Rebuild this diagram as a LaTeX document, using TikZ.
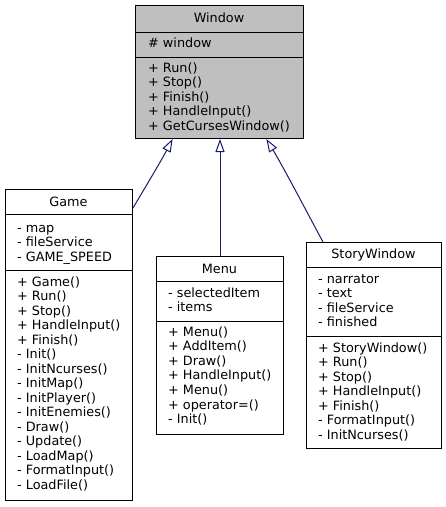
\documentclass[tikz,border=0pt]{standalone}
\usepackage{fontspec}
\setmainfont{DejaVu Sans}
\usepackage{xcolor}
\usepackage{tikz}
\usetikzlibrary{arrows.meta,positioning,calc}

\definecolor{edgeblue}{HTML}{191970}
\definecolor{basegray}{HTML}{BFBFBF}

\tikzset{
  classbox/.style={draw=black, line width=1pt, inner sep=0pt, anchor=north west},
  sepline/.style={draw=black, line width=1pt},
  lbl/.style={inner sep=0pt, anchor=base west, font=\fontsize{12.8}{14.6}\selectfont},
  ttl/.style={inner sep=0pt, anchor=base, font=\fontsize{12.8}{14.6}\selectfont},
  inherit/.style={draw=edgeblue, line width=1pt, -{Triangle[open, length=13pt, width=9pt]}}
}

\begin{document}
\begin{tikzpicture}[x=1pt,y=-1pt]
\useasboundingbox (0,0) rectangle (446,507);

% Window (base class)
\node[classbox, fill=basegray, minimum width=168pt, minimum height=133pt] (win) at (135,5) {};
\draw[sepline] (135,32) -- (303,32);
\draw[sepline] (135,57) -- (303,57);
\node[ttl] (winT) at (219,22) {Window};
\node[lbl] (winA1) at (148,47) {\# window};
\foreach \txt [count=\i] in {+ Run(), + Stop(), + Finish(), + HandleInput(), + GetCursesWindow()}{
  \node[lbl] (winM\i) at (148,{72+14.5*(\i-1)}) {\txt};
}

% Game
\node[classbox, fill=white, minimum width=127pt, minimum height=311pt] (game) at (5,189) {};
\draw[sepline] (5,214) -- (132,214);
\draw[sepline] (5,270) -- (132,270);
\node[ttl] (gameT) at (68.5,206) {Game};
\foreach \txt [count=\i] in {- map, - fileService, - GAME\_SPEED}{
  \node[lbl] (gameA\i) at (17,{232+14.5*(\i-1)}) {\txt};
}
\foreach \txt [count=\i] in {+ Game(), + Run(), + Stop(), + HandleInput(), + Finish(),
  - Init(), - InitNcurses(), - InitMap(), - InitPlayer(), - InitEnemies(), - Draw(),
  - Update(), - LoadMap(), - FormatInput(), - LoadFile()}{
  \node[lbl] (gameM\i) at (17,{286+14.5*(\i-1)}) {\txt};
}

% Menu
\node[classbox, fill=white, minimum width=127pt, minimum height=178pt] (menu) at (156,256) {};
\draw[sepline] (156,281) -- (283,281);
\draw[sepline] (156,321) -- (283,321);
\node[ttl] (menuT) at (219.5,273) {Menu};
\foreach \txt [count=\i] in {- selectedItem, - items}{
  \node[lbl] (menuA\i) at (168,{297+14.5*(\i-1)}) {\txt};
}
\foreach \txt [count=\i] in {+ Menu(), + AddItem(), + Draw(), + HandleInput(), + Menu(),
  + operator=(), - Init()}{
  \node[lbl] (menuM\i) at (168,{336+14.6*(\i-1)}) {\txt};
}

% StoryWindow
\node[classbox, fill=white, minimum width=135pt, minimum height=206pt] (story) at (306,242) {};
\draw[sepline] (306,267) -- (441,267);
\draw[sepline] (306,336) -- (441,336);
\node[ttl] (storyT) at (373.5,258) {StoryWindow};
\foreach \txt [count=\i] in {- narrator, - text, - fileService, - finished}{
  \node[lbl] (storyA\i) at (318,{283+14.5*(\i-1)}) {\txt};
}
\foreach \txt [count=\i] in {+ StoryWindow(), + Run(), + Stop(), + HandleInput(), + Finish(),
  - FormatInput(), - InitNcurses()}{
  \node[lbl] (storyM\i) at (318,{352+14.5*(\i-1)}) {\txt};
}

% Inheritance
\draw[inherit] ($(game.north east)+(0,19)$) .. controls (140,196) and (160,163) .. (win.235);
\draw[inherit] (menu.north) -- (menu.north |- win.south);
\draw[inherit] ($(story.north west)+(17,0)$) .. controls (310,218) and (285,170) .. (win.305);
\end{tikzpicture}
\end{document}
